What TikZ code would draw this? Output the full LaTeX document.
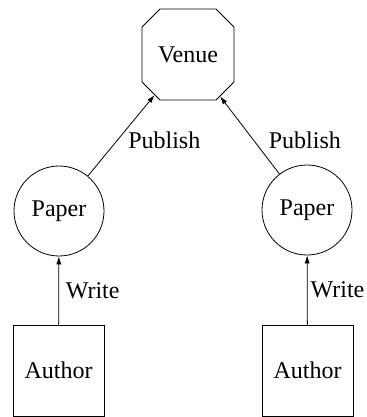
\documentclass[tikz,border=0pt]{standalone}
\usepackage{fontspec}
\setmainfont{Liberation Serif}
\usetikzlibrary{shapes.misc,arrows.meta,positioning}

\tikzset{
  venuebox/.style={draw, chamfered rectangle, chamfered rectangle xsep=5pt,
    chamfered rectangle ysep=5pt, minimum width=46pt, minimum height=45.5pt, inner sep=0pt},
  paperbox/.style={draw, circle, minimum size=45pt, inner sep=0pt},
  authorbox/.style={draw, rectangle, minimum width=45.5pt, minimum height=45.5pt, inner sep=0pt},
  rel/.style={-{Latex[length=4pt,width=2.6pt]}},
  lbl/.style={midway, right}
}

\begin{document}
\begin{tikzpicture}[x=1pt, y=1pt, font=\fontsize{12}{14.4}\selectfont]

\useasboundingbox (0,0) rectangle (183,-208.5);

% Venue at the top
\node[venuebox] (venue) at (94, -27.25) {Venue};

% Papers
\node[paperbox] (paperL) at (29.5, -105.5) {Paper};
\node[paperbox] (paperR) at (153.5, -105) {Paper};

% Authors
\node[authorbox] (authorL) at (29.25, -185.25) {Author};
\node[authorbox] (authorR) at (153.75, -185.25) {Author};

% Publish edges
\draw[rel] (paperL) -- node[lbl, yshift=-2.5pt] {Publish} (venue);
\draw[rel] (paperR) -- node[lbl, xshift=6pt, yshift=-2.5pt] {Publish} (venue);

% Write edges
\draw[rel] (authorL) -- node[lbl] {Write} (paperL);
\draw[rel] (authorR) -- node[lbl, inner sep=1.5pt] {Write} (paperR);

\end{tikzpicture}
\end{document}
